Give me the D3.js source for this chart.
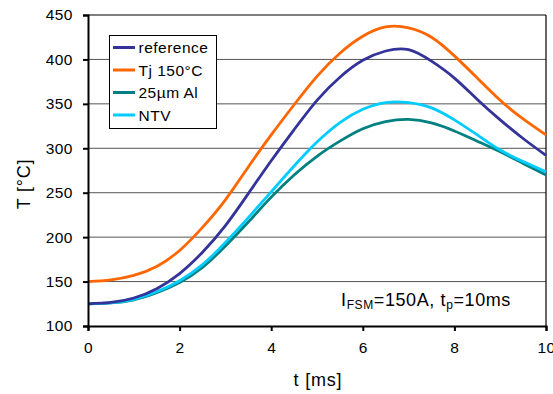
<!DOCTYPE html>
<html><head><meta charset="utf-8">
<script src="https://cdn.jsdelivr.net/npm/d3@7"></script>
<style>body{margin:0;background:#fff}svg{display:block;font-family:Arial,"Liberation Sans",sans-serif}</style>
</head><body><svg id="c" width="553" height="394"></svg>
<script>
const times = [0,0.5,1,1.5,2,2.5,3,3.5,4,4.5,5,5.5,6,6.5,7,7.5,8,8.5,9,9.5,10];
const seriesNames = ["reference","Tj 150°C","25µm Al","NTV"];
const seriesColors = ["#333399","#FF6600","#008080","#00CCFF"];
const reference = [125,126.5,131.5,142,159,183,213,249,286,321,354,380,399,409.5,411,398,379,355,332,311,292];
const tj150     = [150,152,157,167,185,211,242,279,315,349,381,407,426,436.5,435.5,425,404,379,354,333,315];
const al25      = [125,126,129.5,137.5,149,166,190,217,245,270,291,308,322,330,332.5,328.5,319.5,308,296,283,270];
const ntv       = [125,126,130,138.5,151,169,194,222,251,280,307,329,344,351.5,351.5,345.5,332,315,298,285,273.5];
const xTicks = [0,2,4,6,8,10];
const yTicks = [100,150,200,250,300,350,400,450];

const seriesValues = [reference, tj150, al25, ntv];
const svg = d3.select("#c");
const L=88, R=546, T=15, B=326;
const x = d3.scaleLinear().domain([0,10]).range([L,R]);
const y = d3.scaleLinear().domain([100,450]).range([B,T]);

// gridlines
svg.append("g").selectAll("line").data(yTicks.filter(v=>v>100&&v<450)).join("line")
  .attr("x1",L).attr("x2",R).attr("y1",d=>y(d)).attr("y2",d=>y(d))
  .attr("stroke","#555").attr("stroke-width",1);
// frame top/right
svg.append("line").attr("x1",L).attr("x2",R).attr("y1",T).attr("y2",T).attr("stroke","#000").attr("stroke-width",1.2);
svg.append("line").attr("x1",R).attr("x2",R).attr("y1",T).attr("y2",B).attr("stroke","#000").attr("stroke-width",1.2);

// lines
const line = d3.line().x((d,i)=>x(times[i])).y(d=>y(d)).curve(d3.curveNatural);
const order = [2,3,0,1];
order.forEach(k=>{
  svg.append("path").attr("d",line(seriesValues[k])).attr("fill","none")
    .attr("stroke",seriesColors[k]).attr("stroke-width",2.8);
});

// axes
const xa = svg.append("g").attr("transform",`translate(0,${B})`)
  .call(d3.axisBottom(x).tickValues(xTicks).tickSize(5).tickPadding(11).tickFormat(d3.format("d")));
const ya = svg.append("g").attr("transform",`translate(${L},0)`)
  .call(d3.axisLeft(y).tickValues(yTicks).tickSize(5).tickPadding(10).tickFormat(d3.format("d")));
[xa,ya].forEach(a=>{
  a.select(".domain").attr("stroke","#000").attr("stroke-width",2);
  a.selectAll(".tick line").attr("stroke","#000").attr("stroke-width",2);
  a.selectAll("text").attr("font-size",15.5).attr("letter-spacing","0.5px").attr("fill","#000")
    .attr("font-family","Arial, Liberation Sans, sans-serif");
});

// axis titles
svg.append("text").attr("x",318).attr("y",386).attr("text-anchor","middle")
  .attr("font-size",18).attr("letter-spacing","0.8px").text("t [ms]");
svg.append("text").attr("transform","translate(30,184) rotate(-90)").attr("text-anchor","middle")
  .attr("font-size",18).attr("letter-spacing","0.8px").text("T [°C]");

// legend
const lg = svg.append("g");
lg.append("rect").attr("x",109.5).attr("y",35.5).attr("width",107).attr("height",93)
  .attr("fill","#fff").attr("stroke","#000").attr("stroke-width",1);
seriesNames.forEach((n,i)=>{
  const yy = 47.5 + i*22.5;
  lg.append("line").attr("x1",113).attr("x2",135).attr("y1",yy).attr("y2",yy)
    .attr("stroke",seriesColors[i]).attr("stroke-width",3);
  lg.append("text").attr("x",138.5).attr("y",yy).attr("dy","0.36em").attr("font-size",15.5)
    .attr("letter-spacing","0.5px").text(n);
});

// annotation
const an = svg.append("text").attr("x",426).attr("y",306).attr("text-anchor","middle")
  .attr("font-size",18).attr("letter-spacing","0.6px");
an.append("tspan").text("I");
an.append("tspan").attr("font-size",12).attr("dy",3).text("FSM");
an.append("tspan").attr("dy",-3).text("=150A, t");
an.append("tspan").attr("font-size",12).attr("dy",3).text("p");
an.append("tspan").attr("dy",-3).text("=10ms");
</script></body></html>
